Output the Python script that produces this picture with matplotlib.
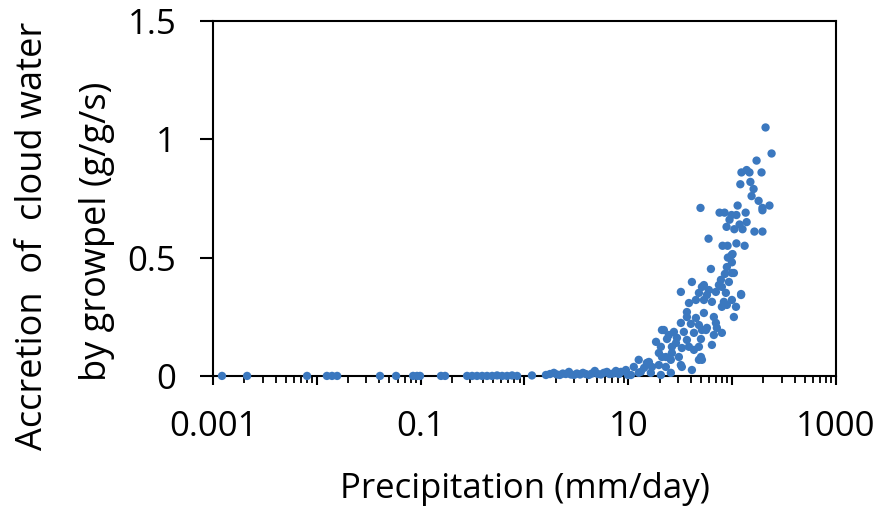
import matplotlib.pyplot as plt
from matplotlib.ticker import FixedLocator, FuncFormatter, NullFormatter, LogLocator

plt.rcParams['font.family'] = ['Open Sans', 'DejaVu Sans']

# precipitation (mm/day) and accretion (g/g/s)
# near-zero part
precip_low = [0.00122, 0.00213, 0.00805, 0.0125, 0.014, 0.0157, 0.0406, 0.058,
              0.0845, 0.0923, 0.0986, 0.157, 0.172, 0.28, 0.313, 0.349, 0.391,
              0.436, 0.488, 0.545, 0.609, 0.68, 0.76, 0.85, 1.18,
              1.61, 1.76, 1.92, 2.05, 2.19, 2.34, 2.5, 2.68, 2.8, 3.0, 3.2,
              3.43, 3.66, 3.9, 4.17, 4.46, 4.76, 5.1, 5.44, 5.81, 6.22, 6.6,
              7.1, 7.6, 8.13, 8.49, 9.48, 9.91]
accr_low = [0, 0, 0, 0, 0, 0, 0, 0,
            0, 0, 0, 0, 0, 0, 0, 0, 0,
            0, 0, 0.002, 0, 0, 0.002, 0, 0.002,
            0.004, 0.008, 0.013, 0.006, 0.004, 0.01, 0.008, 0.017, 0.006, 0.004, 0.01,
            0.006, 0.013, 0.008, 0.004, 0.01, 0.021, 0.008, 0.006, 0.013, 0.017, 0.008,
            0.01, 0.021, 0.008, 0.017, 0.025, 0.004]

# rising part, 10 - 50 mm/day
precip_mid = [10.6, 11.3, 12.6, 12.6, 13.2, 14.2, 15.1, 15.8, 16.5, 16.9, 18.5,
              19.7, 19.7, 20.6, 20.6, 21.1, 21.1, 22.0, 23.0, 23.0, 23.6, 24.6,
              25.7, 25.7, 26.3, 26.3, 27.5, 28.8, 29.4, 30.7, 32.1, 32.1, 32.1,
              32.8, 32.8, 34.3, 36.7, 36.7, 36.7, 38.4, 38.4, 40.1, 41.0, 41.0,
              42.9, 42.9, 44.8, 44.8, 47.9, 47.9, 47.9, 47.9, 50.1, 50.1, 51.2,
              51.2, 51.2]
accr_mid = [0.004, 0.038, 0.068, 0.013, 0.017, 0.034, 0.055, 0.059, 0.013, 0.038, 0.144,
            0.097, 0.046, 0.123, 0.004, 0.08, 0.194, 0.194, 0.038, 0.08, 0.156, 0.173,
            0.068, 0.013, 0.123, 0.097, 0.186, 0.139, 0.161, 0.08, 0.046, 0.224, 0.355,
            0.118, 0.038, 0.186, 0.152, 0.27, 0.249, 0.308, 0.123, 0.22, 0.397, 0.025,
            0.11, 0.182, 0.321, 0.245, 0.351, 0.215, 0.068, 0.123, 0.08, 0.156, 0.376,
            0.194, 0.068]

# 50 - 125 mm/day
precip_hi = [53.5, 53.5, 53.5, 56.0, 57.2, 57.2, 59.7, 62.5, 63.9, 63.9, 66.7,
             66.7, 69.8, 69.8, 71.3, 74.6, 78.0, 79.7, 79.7, 79.7, 83.3, 85.2,
             87.1, 89.0, 89.0, 91.0, 93.1, 99.5, 99.5, 99.5, 104, 104, 109, 122, 122]
accr_hi = [0.321, 0.266, 0.384, 0.194, 0.203, 0.342, 0.363, 0.452, 0.313, 0.131, 0.249,
           0.173, 0.355, 0.224, 0.203, 0.384, 0.406, 0.182, 0.376, 0.292, 0.313, 0.431,
           0.351, 0.46, 0.30, 0.50, 0.397, 0.435, 0.321, 0.48, 0.249, 0.435, 0.292, 0.346, 0.342]

# top branch
precip_top = [210, 240, 172, 138, 123, 147, 192, 120, 150, 161, 154, 180, 196, 229,
              196, 49.6, 113, 75.7, 84.6, 98.7, 110, 135, 94.4, 118, 138, 88.4, 105,
              126, 164, 196, 59.3, 80.9, 90.4, 110, 132, 98.7, 101]
accr_top = [1.05, 0.94, 0.91, 0.87, 0.86, 0.86, 0.86, 0.81, 0.82, 0.79, 0.76, 0.74, 0.71, 0.72,
            0.70, 0.71, 0.72, 0.69, 0.69, 0.68, 0.68, 0.69, 0.66, 0.64, 0.65, 0.63, 0.62,
            0.62, 0.61, 0.61, 0.58, 0.55, 0.55, 0.56, 0.55, 0.51, 0.515]

precip = precip_low + precip_mid + precip_hi + precip_top
accretion = accr_low + accr_mid + accr_hi + accr_top

x_ticks = [0.001, 0.01, 0.1, 1, 10, 100, 1000]
x_labels = {0.001: '0.001', 0.1: '0.1', 10: '10', 1000: '1000'}
y_ticks = [0, 0.5, 1, 1.5]
y_labels = ['0', '0.5', '1', '1.5']

fig = plt.figure(figsize=(8.95, 5.08), dpi=100)
ax = fig.add_axes([0.238, 0.26, 0.696, 0.6987])

ax.scatter(precip, accretion, s=36, color='#3b78bf', edgecolors='none',
           clip_on=False, zorder=3)

ax.set_xscale('log')
ax.set_xlim(0.001, 1000)
ax.set_ylim(0, 1.5)

ax.xaxis.set_major_locator(FixedLocator(x_ticks))
ax.xaxis.set_major_formatter(FuncFormatter(lambda v, p: x_labels.get(round(v, 6), '')))
ax.xaxis.set_minor_locator(LogLocator(base=10, subs=range(2, 10)))
ax.xaxis.set_minor_formatter(NullFormatter())
ax.set_yticks(y_ticks)
ax.set_yticklabels(y_labels)

for s in ax.spines.values():
    s.set_linewidth(1.5)
    s.set_color('black')

ax.tick_params(axis='x', which='major', direction='out', length=6.5, width=1.5,
               labelsize=25, pad=18, top=False)
ax.tick_params(axis='x', which='minor', direction='out', length=5, width=1.3, top=False)
ax.tick_params(axis='y', direction='out', length=9.5, width=1.5, labelsize=25,
               pad=17, right=False)

ax.set_xlabel('Precipitation (mm/day)', fontsize=25, labelpad=20)
fig.text(0.037, 0.535, 'Accretion  of  cloud water', rotation=90, fontsize=26,
         ha='center', va='center')
fig.text(0.108, 0.545, 'by growpel (g/g/s)', rotation=90, fontsize=26,
         ha='center', va='center')

fig.savefig('out.png', dpi=100)
